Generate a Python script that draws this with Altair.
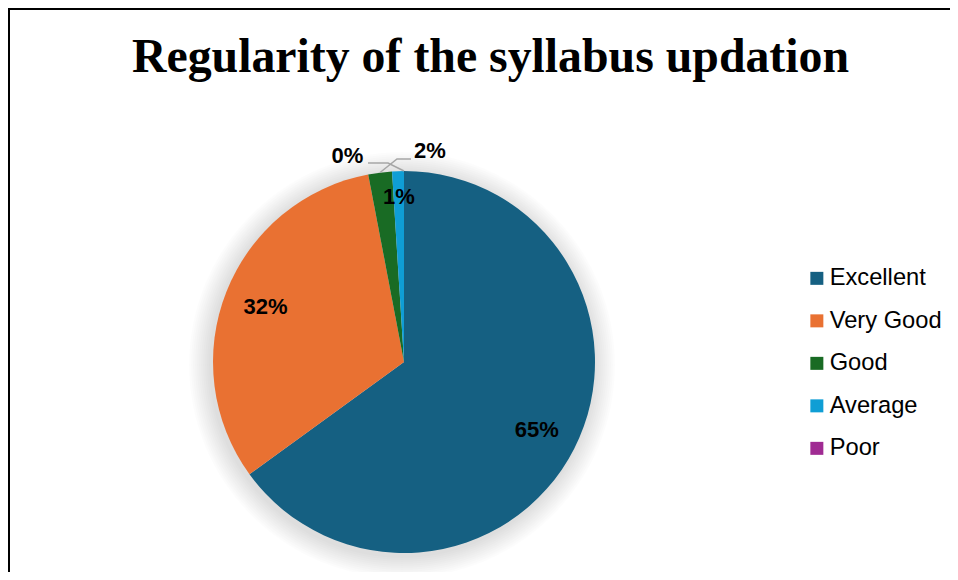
import altair as alt
import pandas as pd
import numpy as np

categories = ["Excellent", "Very Good", "Good", "Average", "Poor"]
percents = [65, 32, 2, 1, 0]
colors = ["#156082", "#E97132", "#196B24", "#0F9ED5", "#A02B93"]
title_text = "Regularity of the syllabus updation"

W, H = 942, 564
CX, CY, R = 396, 354, 191

labels = [f"{p}%" for p in percents]
df = pd.DataFrame({
    "category": categories,
    "value": percents,
    "order": list(range(len(categories))),
    "inner": [l if p >= 10 else "" for l, p in zip(labels, percents)],
    "near": [l if c == "Average" else "" for l, c in zip(labels, categories)],
})

theta = alt.Theta("value:Q", stack=True)
order = alt.Order("order:Q")
color = alt.Color(
    "category:N",
    scale=alt.Scale(domain=categories, range=colors),
    sort=categories,
    legend=alt.Legend(
        orient="none", legendX=797, legendY=258.5, title=None,
        symbolType="square", symbolSize=169, symbolStrokeWidth=0,
        labelFontSize=23.7, labelFont="Liberation Sans", labelColor="#000000",
        labelOffset=1, rowPadding=17.5, padding=0, labelLimit=400,
    ),
)

one = pd.DataFrame({"a": [0]})

# soft shadow around the pie
shadow_layers = [
    alt.Chart(one).mark_arc(radius=R + 2 * k, theta=0, theta2=6.2832,
                            color="#000000", opacity=0.012).encode(
        x=alt.value(CX - 2), y=alt.value(CY + 3))
    for k in range(1, 12)
]

pie = alt.Chart(df).mark_arc(radius=R).encode(
    theta=theta, color=color, order=order, x=alt.value(CX), y=alt.value(CY)
)

inner_txt = alt.Chart(df).mark_text(
    radius=149, font="Liberation Sans", fontSize=22, fontWeight="bold", color="#000000"
).encode(theta=theta, order=order, text="inner:N", x=alt.value(CX), y=alt.value(CY))

near_txt = alt.Chart(df).mark_text(
    radius=165, font="Liberation Sans", fontSize=22, fontWeight="bold", color="#000000"
).encode(theta=theta, order=order, text="near:N", x=alt.value(CX), y=alt.value(CY))

# outside labels with leader lines for Good and Poor
cum = np.cumsum(percents)
mid = (cum - np.array(percents) / 2) / 100 * 2 * np.pi
edge = {c: (CX + R * np.sin(m), CY - R * np.cos(m)) for c, m in zip(categories, mid)}
out_pos = {"Good": (422, 142.5), "Poor": (339.5, 147.5)}
elbow = {"Good": [(403, 151), (389, 151)], "Poor": [(360, 155), (380, 155)]}

out_df = pd.DataFrame({
    "category": list(out_pos.keys()),
    "px": [out_pos[c][0] for c in out_pos],
    "py": [out_pos[c][1] for c in out_pos],
    "label": [labels[categories.index(c)] for c in out_pos],
})
line_rows = []
for c in out_pos:
    pts = elbow[c] + [edge[c]]
    for i, (x, y) in enumerate(pts):
        line_rows.append({"category": c, "i": i, "px": float(x), "py": float(y)})
line_df = pd.DataFrame(line_rows)

xs = alt.Scale(domain=[0, W], range=[0, W], nice=False, zero=False)
ys = alt.Scale(domain=[0, H], range=[0, H], nice=False, zero=False)

leaders = alt.Chart(line_df).mark_line(color="#A6A6A6", strokeWidth=1.5).encode(
    x=alt.X("px:Q", scale=xs, axis=None), y=alt.Y("py:Q", scale=ys, axis=None),
    detail="category:N", order="i:Q",
)
out_txt = alt.Chart(out_df).mark_text(
    font="Liberation Sans", fontSize=22, fontWeight="bold", color="#000000", baseline="middle"
).encode(x=alt.X("px:Q", scale=xs, axis=None), y=alt.Y("py:Q", scale=ys, axis=None), text="label:N")

title = alt.Chart(one).mark_text(
    text=title_text, font="Liberation Serif", fontSize=47.8, fontWeight="bold",
    color="#000000", align="center", baseline="alphabetic",
).encode(x=alt.value(482.5), y=alt.value(64))

# frame: top and left edges
frame_top = alt.Chart(one).mark_rect(color="#000000").encode(
    x=alt.value(0), x2=alt.value(W), y=alt.value(0), y2=alt.value(2)
)
frame_left = alt.Chart(one).mark_rect(color="#000000").encode(
    x=alt.value(0), x2=alt.value(2), y=alt.value(0), y2=alt.value(H)
)

chart = alt.layer(
    *shadow_layers, pie, inner_txt, near_txt, leaders, out_txt, title, frame_top, frame_left
).properties(
    width=W, height=H,
    autosize=alt.AutoSizeParams(type="none"),
    padding=0, background="#ffffff",
).configure_view(strokeWidth=0, stroke="transparent")

chart.save("out.html", embed_options={"renderer": "svg", "actions": False})
